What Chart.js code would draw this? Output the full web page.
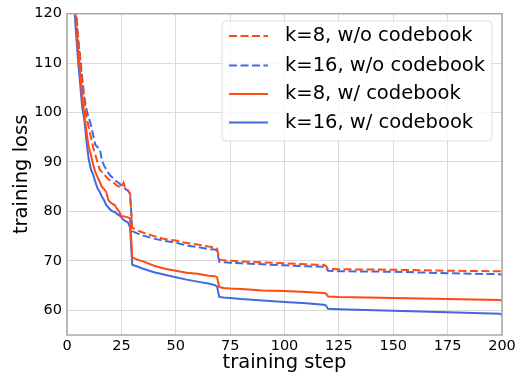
<!DOCTYPE html>
<html>
<head>
<meta charset="utf-8">
<script src="https://cdn.jsdelivr.net/npm/chart.js@4"></script>
<style>
  body { margin: 0; background: #fff; }
</style>
</head>
<body>
<canvas id="lossChart" width="520" height="377"></canvas>
<script>
// training steps where the curves were sampled
const steps = [2, 3, 4, 5, 6, 7, 8, 9, 10, 11, 12, 13, 14, 15, 16, 17, 18, 19, 20, 21, 22, 23, 24, 25, 26, 27, 28, 29, 30,
    32, 35, 40, 45, 50, 55, 60, 65, 68, 69, 70, 72, 75, 80, 90, 100, 110, 118, 119, 120, 125, 150, 175, 199, 200];

const k8NoCodebook = [140, 130, 122, 116, 111, 106, 102, 99, 97, 95, 93, 91.5, 90, 88.5, 88, 87.5, 87, 86.5, 86.2, 86, 85.6, 85.2, 85, 84.8, 85.8, 84.5, 84.3, 83.5, 76.7,
    76.2, 75.7, 75, 74.4, 74.1, 73.6, 73.3, 72.9, 72.7, 72.5, 70.3, 70.1, 70, 69.9, 69.7, 69.5, 69.3, 69.2, 69, 68.4, 68.3, 68.2, 68, 67.9, 67.7];
const k16NoCodebook = [138, 127, 121, 115, 111.5, 107, 103, 100.5, 99, 97.5, 95.5, 93.5, 93, 92.8, 90.5, 89.3, 88.5, 87.8, 87.2, 86.8, 86.3, 86, 85.7, 85.2, 85, 84.5, 84.2, 83.7, 76,
    75.6, 75.1, 74.5, 74, 73.7, 73.1, 72.8, 72.4, 72.3, 72, 69.8, 69.7, 69.6, 69.5, 69.3, 69.1, 68.9, 68.8, 68.6, 68, 67.9, 67.8, 67.5, 67.3, 67.1];
const k8Codebook = [137, 126, 119, 113, 108, 103, 99.5, 96, 93, 91.5, 89.5, 88, 87, 86, 85, 84.5, 84, 82.3, 81.8, 81.5, 81.3, 80.5, 80, 79, 79, 78.9, 78.8, 78.6, 70.7,
    70.3, 69.9, 69, 68.4, 68, 67.6, 67.4, 67, 66.9, 66.7, 64.7, 64.5, 64.4, 64.3, 64, 63.9, 63.7, 63.5, 63.4, 62.8, 62.7, 62.5, 62.3, 62.1, 61.9];
const k16Codebook = [135, 124, 117, 111, 106, 101, 98.5, 94, 90.5, 88.5, 87.5, 86, 84.7, 84, 83, 82.3, 81.3, 80.8, 80.3, 80, 79.9, 79.5, 79.2, 78.8, 78.3, 78, 77.8, 76.8, 69.2,
    68.9, 68.4, 67.7, 67.2, 66.7, 66.2, 65.8, 65.4, 65.1, 64.8, 62.7, 62.6, 62.5, 62.3, 62, 61.7, 61.4, 61.1, 61, 60.3, 60.2, 59.9, 59.6, 59.3, 59.1];

const seriesLabels = ["k=8, w/o codebook", "k=16, w/o codebook", "k=8, w/ codebook", "k=16, w/ codebook"];
const yTickValues = [60, 70, 80, 90, 100, 110, 120];

const RED = "#ff4a14";
const BLUE = "#4169e1";
const FONT = "'DejaVu Sans', sans-serif";

function toPoints(values) {
    return steps.map((s, i) => ({ x: s, y: values[i] }));
}

function makeDataset(label, values, color, dashed) {
    return {
        label: label,
        data: toPoints(values),
        borderColor: color,
        backgroundColor: color,
        borderWidth: 2,
        borderDash: dashed ? [8, 3.5] : [],
        pointRadius: 0,
        tension: 0,
        fill: false,
    };
}

// frame round the plot area + matplotlib-like legend box
const framePlugin = {
    id: "frame",
    afterDraw(chart) {
        const { ctx, chartArea } = chart;
        ctx.save();
        ctx.strokeStyle = "#a8a8a8";
        ctx.lineWidth = 1.5;
        ctx.strokeRect(chartArea.left, chartArea.top, chartArea.right - chartArea.left, chartArea.bottom - chartArea.top);

        // legend
        const bx = 222, by = 21, bw = 270, bh = 120, r = 4;
        ctx.beginPath();
        ctx.moveTo(bx + r, by);
        ctx.arcTo(bx + bw, by, bx + bw, by + bh, r);
        ctx.arcTo(bx + bw, by + bh, bx, by + bh, r);
        ctx.arcTo(bx, by + bh, bx, by, r);
        ctx.arcTo(bx, by, bx + bw, by, r);
        ctx.closePath();
        ctx.fillStyle = "rgba(255,255,255,0.8)";
        ctx.fill();
        ctx.strokeStyle = "#dddddd";
        ctx.lineWidth = 1;
        ctx.stroke();

        const rows = [36, 65.5, 94, 122.5];
        chart.data.datasets.forEach((ds, i) => {
            ctx.beginPath();
            ctx.setLineDash(ds.borderDash);
            ctx.strokeStyle = ds.borderColor;
            ctx.lineWidth = 2;
            ctx.moveTo(229, rows[i]);
            ctx.lineTo(268, rows[i]);
            ctx.stroke();
            ctx.setLineDash([]);
            ctx.fillStyle = "#000";
            ctx.font = "19.5px " + FONT;
            ctx.textBaseline = "middle";
            ctx.textAlign = "left";
            ctx.fillText(ds.label, 285, rows[i]);
        });
        ctx.restore();
    },
};

const ctx = document.getElementById("lossChart");
new Chart(ctx, {
    type: "line",
    data: {
        datasets: [
            makeDataset(seriesLabels[0], k8NoCodebook, RED, true),
            makeDataset(seriesLabels[1], k16NoCodebook, BLUE, true),
            makeDataset(seriesLabels[2], k8Codebook, RED, false),
            makeDataset(seriesLabels[3], k16Codebook, BLUE, false),
        ],
    },
    options: {
        responsive: false,
        animation: false,
        layout: { padding: { top: 10, right: 18, left: 0, bottom: 0 } },
        plugins: {
            legend: { display: false },
            tooltip: { enabled: false },
        },
        scales: {
            x: {
                type: "linear",
                min: 0,
                max: 200,
                ticks: { stepSize: 25, padding: 3, color: "#000", font: { family: FONT, size: 14.5 }, maxRotation: 0 },
                grid: { color: "#dadada", drawTicks: false },
                border: { display: false },
                title: { display: true, text: "training step", color: "#000", font: { family: FONT, size: 19.5 }, padding: { top: 0, bottom: 2 } },
                afterFit(scale) { scale.height = 42; },
            },
            y: {
                min: 55,
                max: 120,
                ticks: { padding: 5, color: "#000", font: { family: FONT, size: 14.5 } },
                grid: { color: "#dadada", drawTicks: false },
                border: { display: false },
                title: { display: true, text: "training loss", color: "#000", font: { family: FONT, size: 19.5 }, padding: { top: 10, bottom: 0 } },
                afterBuildTicks(scale) { scale.ticks = yTickValues.map((v) => ({ value: v })); },
                afterFit(scale) { scale.width = 67; },
            },
        },
    },
    plugins: [framePlugin],
});
</script>
</body>
</html>
